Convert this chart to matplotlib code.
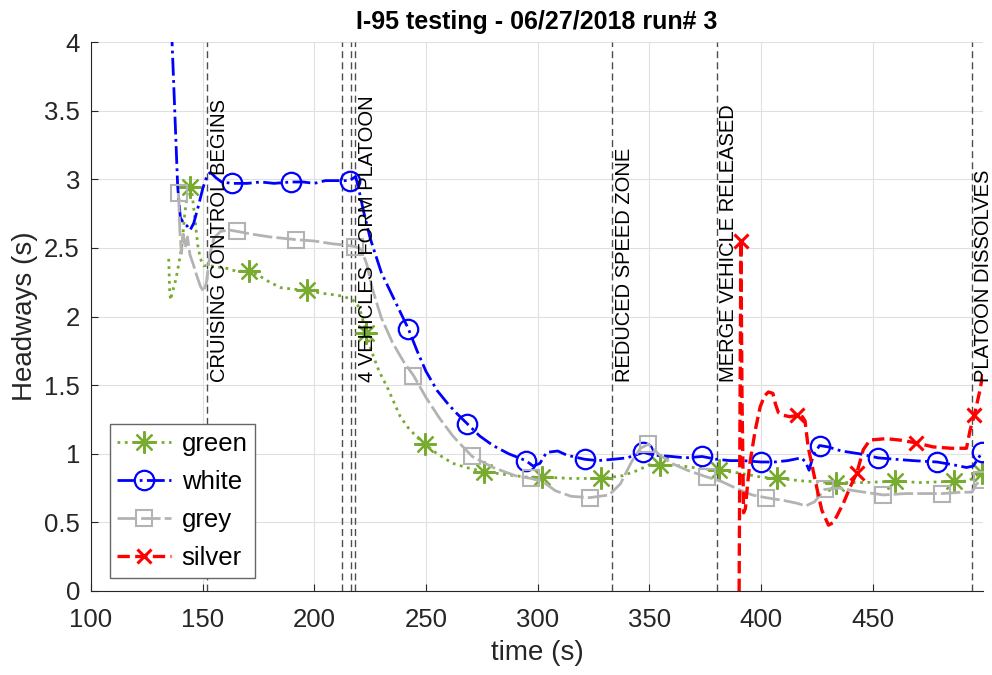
import numpy as np
import matplotlib
matplotlib.use("Agg")
from matplotlib import pyplot as plt

plt.rcParams['font.family'] = ['Liberation Sans', 'DejaVu Sans']

# headway traces per vehicle (time s, headway s)
green_t = [134.8, 135.2, 135.6, 136.5, 138.0, 139.5, 140.8, 142.0, 143.2, 144.3, 145.2, 146.5, 147.8, 149.0,
           150.5, 153.0, 157.0, 161.0, 165.0, 170.6, 175.0, 180.0, 185.0, 190.0, 196.9, 203.0, 208.0, 212.0,
           216.0, 219.0, 221.0, 223.2, 226.0, 229.0, 232.5, 235.5, 238.5, 242.0, 246.0, 249.5, 255.0, 262.0,
           268.0, 275.8, 285.0, 295.0, 302.1, 315.0, 328.4, 338.0, 345.0, 350.0, 354.7, 365.0, 374.0, 381.0,
           390.0, 400.0, 407.3, 420.0, 433.6, 446.0, 459.9, 472.0, 486.2, 493.0, 496.0, 499.0]
green_h = [2.42, 2.20, 2.12, 2.18, 2.27, 2.40, 2.53, 2.75, 2.90, 2.94, 2.90, 2.72, 2.52, 2.42,
           2.37, 2.37, 2.36, 2.35, 2.33, 2.33, 2.30, 2.25, 2.21, 2.20, 2.19, 2.17, 2.16, 2.15,
           2.13, 2.10, 2.02, 1.88, 1.73, 1.60, 1.49, 1.38, 1.27, 1.19, 1.12, 1.07, 1.00, 0.93,
           0.90, 0.87, 0.85, 0.83, 0.83, 0.82, 0.82, 0.84, 0.88, 0.92, 0.92, 0.91, 0.89, 0.88,
           0.86, 0.83, 0.82, 0.80, 0.79, 0.79, 0.80, 0.79, 0.80, 0.80, 0.84, 0.86]
green_mk = [144.3, 170.6, 196.9, 223.2, 249.5, 275.8, 302.1, 328.4, 354.7, 381.0, 407.3, 433.6, 459.9, 486.2, 499.0]

white_t = [135.8, 136.3, 137.5, 138.8, 140.0, 141.5, 143.0, 144.4, 146.0, 148.0, 150.0, 152.0, 153.5, 156.0,
           158.5, 163.2, 170.0, 176.0, 182.0, 189.5, 195.0, 200.0, 205.0, 210.0, 215.8, 218.5, 220.0, 222.0,
           225.0, 230.0, 235.0, 242.1, 246.0, 250.0, 255.0, 260.0, 264.0, 268.4, 274.0, 280.0, 287.0, 294.7,
           298.0, 301.0, 304.0, 309.0, 313.0, 321.0, 327.0, 334.0, 340.0, 347.3, 352.0, 360.0, 366.0, 373.6,
           380.0, 386.0, 392.0, 399.9, 406.0, 412.0, 418.0, 420.0, 421.5, 423.5, 426.2, 430.0, 436.0, 444.0,
           452.5, 460.0, 468.0, 478.8, 486.0, 492.0, 495.0, 497.0, 499.0]
white_h = [4.50, 4.00, 3.50, 2.95, 2.72, 2.68, 2.66, 2.63, 2.68, 2.80, 2.93, 3.03, 3.05, 3.01,
           2.98, 2.97, 2.97, 2.98, 2.97, 2.98, 2.98, 2.97, 2.99, 2.99, 2.99, 3.02, 2.92, 2.77,
           2.57, 2.32, 2.15, 1.91, 1.75, 1.60, 1.46, 1.36, 1.29, 1.22, 1.13, 1.06, 1.00, 0.95,
           0.91, 0.93, 1.01, 1.02, 0.99, 0.96, 0.95, 0.96, 0.97, 1.01, 0.99, 0.98, 0.97, 0.98,
           0.96, 0.95, 0.95, 0.94, 0.94, 0.95, 0.97, 0.94, 0.88, 0.99, 1.06, 1.05, 1.02, 1.00,
           0.97, 0.96, 0.95, 0.94, 0.92, 0.90, 0.91, 0.96, 1.01]
white_mk = [163.2, 189.5, 215.8, 242.1, 268.4, 294.7, 321.0, 347.3, 373.6, 399.9, 426.2, 452.5, 478.8, 499.0]

grey_t = [139.2, 139.8, 140.5, 141.3, 142.2, 143.2, 144.3, 145.8, 147.3, 149.0, 150.5, 151.7, 153.2, 155.0,
          158.0, 162.0, 165.5, 172.0, 180.0, 191.8, 200.0, 208.0, 214.0, 218.1, 221.0, 223.5, 226.0, 230.0,
          235.0, 240.0, 244.4, 250.0, 256.0, 262.0, 266.0, 270.7, 280.0, 290.0, 297.0, 302.0, 308.0, 315.0,
          323.3, 332.0, 337.0, 342.0, 346.0, 349.6, 354.0, 360.0, 367.0, 375.9, 382.0, 390.0, 396.0, 402.2,
          410.0, 416.0, 420.0, 424.0, 428.5, 435.0, 442.0, 454.8, 465.0, 481.1, 490.0, 494.5, 496.5, 499.0]
grey_h = [2.90, 2.62, 2.46, 2.60, 2.50, 2.58, 2.45, 2.38, 2.30, 2.22, 2.18, 2.25, 2.45, 2.57,
          2.62, 2.63, 2.62, 2.60, 2.58, 2.56, 2.55, 2.53, 2.52, 2.51, 2.49, 2.38, 2.20, 1.99,
          1.81, 1.67, 1.57, 1.41, 1.26, 1.13, 1.06, 0.98, 0.90, 0.84, 0.82, 0.80, 0.73, 0.69,
          0.68, 0.70, 0.78, 0.94, 1.04, 1.07, 1.00, 0.93, 0.88, 0.83, 0.80, 0.74, 0.70, 0.68,
          0.66, 0.64, 0.62, 0.65, 0.74, 0.75, 0.73, 0.70, 0.71, 0.71, 0.72, 0.72, 0.78, 0.81]
grey_mk = [139.2, 165.5, 191.8, 218.1, 244.4, 270.7, 297.0, 323.3, 349.6, 375.9, 402.2, 428.5, 454.8, 481.1, 499.0]

silver_t = [390.2, 390.6, 391.0, 391.5, 392.2, 393.0, 394.0, 395.0, 397.4, 399.6, 401.5, 403.3, 405.3, 406.5,
            407.8, 410.0, 413.0, 416.3, 418.5, 419.7, 421.1, 424.2, 427.2, 430.2, 432.5, 436.9, 440.0, 442.9,
            445.8, 448.8, 456.0, 462.0, 469.3, 477.0, 485.0, 492.0, 493.6, 495.5, 498.0, 499.5]
silver_h = [0.00, 1.30, 2.55, 1.40, 0.57, 0.60, 0.78, 0.93, 1.17, 1.34, 1.42, 1.45, 1.44, 1.36,
            1.30, 1.28, 1.27, 1.28, 1.27, 1.24, 1.05, 0.81, 0.59, 0.48, 0.50, 0.64, 0.76, 0.86,
            1.03, 1.10, 1.11, 1.10, 1.08, 1.05, 1.04, 1.04, 1.17, 1.28, 1.46, 1.60]
silver_mk = [391.0, 416.3, 442.9, 469.3, 495.5]

# test events
event_t = [152.1, 212.3, 216.4, 218.3, 333.4, 380.2, 494.3]
event_txt = ['CRUISING CONTROL BEGINS', '', '', '4 VEHICLES  FORM PLATOON',
             'REDUCED SPEED ZONE', 'MERGE VEHICLE RELEASED', 'PLATOON DISSOLVES']

def idx(t, mk):
    t = np.array(t)
    return [int(np.argmin(abs(t - m))) for m in mk]

fig = plt.figure(figsize=(9.92, 6.75), dpi=100)
ax = fig.add_axes([91/992, 84/675, 892/992, 549/675])

# asterisk marker like matlab '*'
ast = (8, 2, 0)
ax.plot(green_t, green_h, ls=':', lw=2, color=(0.466, 0.674, 0.188), marker=ast, ms=16, mew=1.6,
        markevery=idx(green_t, green_mk), label='green')
ax.plot(white_t, white_h, ls='-.', lw=2, color='b', marker='o', ms=14, mew=1.6, mfc='none',
        markevery=idx(white_t, white_mk), label='white')
ax.plot(grey_t, grey_h, ls=(0, (7, 1.5)), lw=2, color=(0.7, 0.7, 0.7), marker='s', ms=11, mew=1.5, mfc='none',
        markevery=idx(grey_t, grey_mk), label='grey')
ax.plot(silver_t, silver_h, ls='--', lw=2.4, color='r', marker='x', ms=10, mew=2.2,
        markevery=idx(silver_t, silver_mk), label='silver')

for x, s in zip(event_t, event_txt):
    ax.axvline(x, color='0.3', lw=1, dashes=(5, 3), zorder=1)
    if s:
        ax.text(x + 1.2, 1.52, s, rotation=90, ha='left', va='bottom', fontsize=14.5)

ax.set_xlim(100, 499.4)
ax.set_ylim(0, 4)
ax.set_xticks(np.arange(100, 451, 50))
ax.set_yticks(np.arange(0, 4.01, 0.5))
ax.set_yticklabels(['%g' % v for v in np.arange(0, 4.01, 0.5)])
ax.grid(True, color='0.88', lw=0.8)
ax.set_axisbelow(True)
for sp in ['top', 'right']:
    ax.spines[sp].set_visible(False)
for sp in ['left', 'bottom']:
    ax.spines[sp].set_color('0.15')
ax.tick_params(direction='in', length=5, colors='0.15', labelsize=18.5)
ax.tick_params(axis='x', pad=12)
ax.tick_params(axis='y', pad=8)

ax.set_xlabel('time (s)', fontsize=20, color='0.15', labelpad=6)
ax.set_ylabel('Headways (s)', fontsize=20, color='0.15', labelpad=4)
ax.set_title('I-95 testing - 06/27/2018 run# 3', fontsize=18, fontweight='bold', pad=9)

leg = ax.legend(loc='lower left', bbox_to_anchor=(0.021, 0.024), borderaxespad=0, fontsize=18.5,
                fancybox=False, framealpha=1, edgecolor='0.4', handlelength=2.1, handletextpad=0.4,
                labelspacing=0.55, borderpad=0.3)
leg.get_frame().set_linewidth(1)

fig.savefig('out.png', dpi=100)
